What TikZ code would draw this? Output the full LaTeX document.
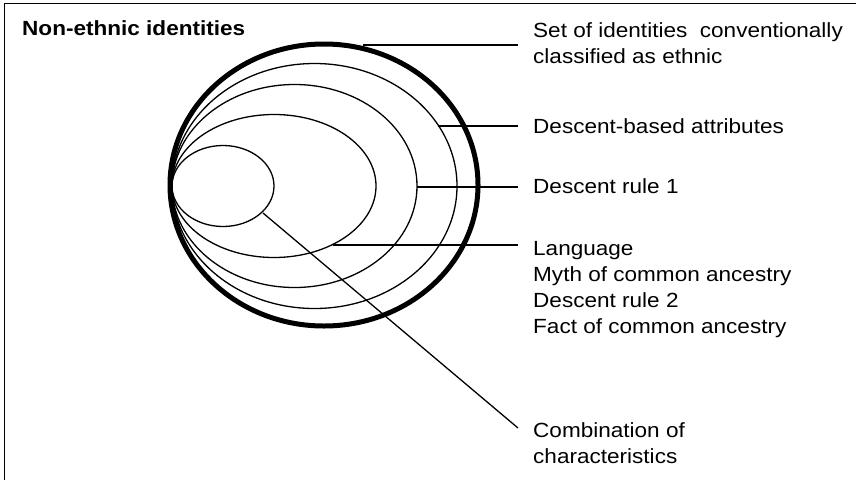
\documentclass[tikz,border=0pt]{standalone}
\usepackage{fontspec}
\setmainfont{Liberation Sans}[FakeStretch=1.1]
\usetikzlibrary{shapes.geometric}
\begin{document}
\begin{tikzpicture}[x=1pt,y=-1pt,
  ring/.style={draw, ellipse, inner sep=0pt, line width=1.3pt},
  lead/.style={line width=1.3pt},
  lab/.style={anchor=base west, inner sep=0pt, font=\fontsize{20.5}{26}\selectfont},
  frameline/.style={line width=1pt}]
\useasboundingbox (0,0) rectangle (856,480);
% frame (only left and top edges visible)
\coordinate (fa) at (4,480);
\coordinate (fb) at (4,3);
\coordinate (fc) at (856,3);
\draw[frameline] (fa) -- (fb) -- (fc);
% title
\node[lab, font=\fontsize{20.5}{26}\selectfont\bfseries] (title) at (22,35) {Non-ethnic identities};
% ellipses
\node[ring, line width=5pt, minimum width=308pt, minimum height=282pt] (e1) at (324,185) {};
\node[ring, minimum width=285pt, minimum height=245pt] (e2) at (314.5,186) {};
\node[ring, minimum width=245pt, minimum height=203pt] (e3) at (294.5,186) {};
\node[ring, minimum width=204pt, minimum height=143pt] (e4) at (274,186) {};
\node[ring, minimum width=102pt, minimum height=81pt] (e5) at (223,186) {};
% labels
\node[lab] (t1) at (533,37) {\begin{tabular}[t]{@{}l@{}}Set of identities~ conventionally\\classified as ethnic\end{tabular}};
\node[lab] (t2) at (533,133) {Descent-based attributes};
\node[lab] (t3) at (533,193) {Descent rule 1};
\node[lab] (t4) at (533,255) {\begin{tabular}[t]{@{}l@{}}Language\\Myth of common ancestry\\Descent rule 2\\Fact of common ancestry\end{tabular}};
\node[lab] (t5) at (533,437) {\begin{tabular}[t]{@{}l@{}}Combination of\\characteristics\end{tabular}};
% leader lines
\coordinate (a1) at (363,45);  \coordinate (b1) at (518,45);
\coordinate (a2) at (438,126); \coordinate (b2) at (518,126);
\coordinate (a3) at (417,187); \coordinate (b3) at (518,187);
\coordinate (a4) at (333,245); \coordinate (b4) at (518,245);
\coordinate (a5) at (263,213); \coordinate (b5) at (518,428);
\draw[lead] (a1) -- (b1);
\draw[lead] (a2) -- (b2);
\draw[lead] (a3) -- (b3);
\draw[lead] (a4) -- (b4);
\draw[lead] (a5) -- (b5);
\end{tikzpicture}
\end{document}
